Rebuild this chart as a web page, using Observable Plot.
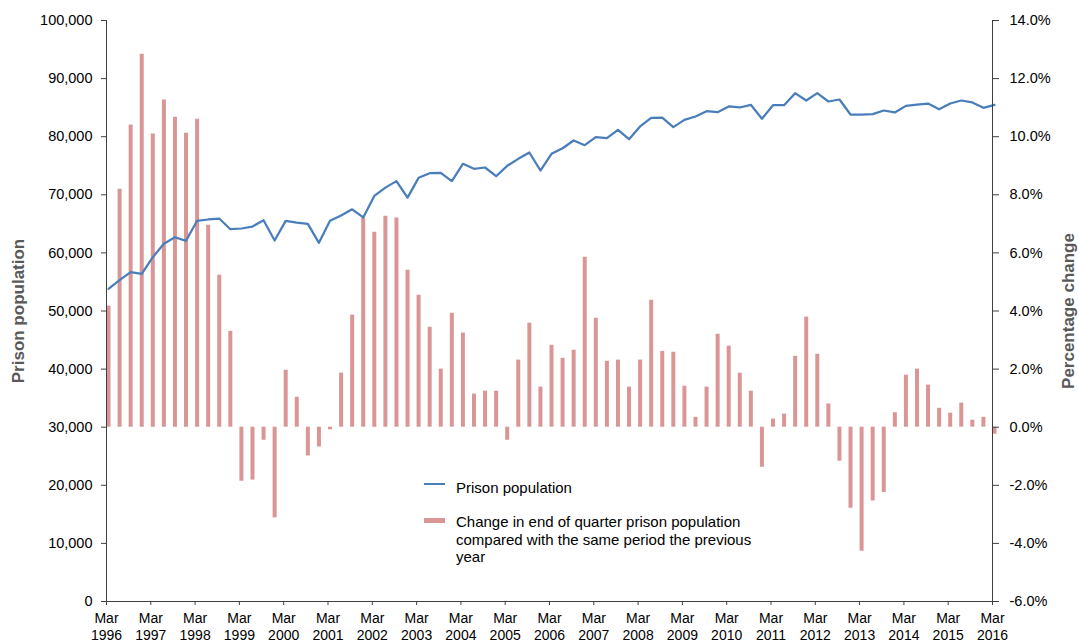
<!DOCTYPE html>
<html>
<head>
<meta charset="utf-8">
<script src="https://cdn.jsdelivr.net/npm/d3@7"></script>
<script src="https://cdn.jsdelivr.net/npm/@observablehq/plot@0.6"></script>
<style>
  html, body { margin: 0; padding: 0; background: #fff; }
  #wrap { position: relative; width: 1078px; height: 643px; font-family: "Liberation Sans", Arial, sans-serif; }
  .legend-swatch { position: absolute; }
  .legend-text { position: absolute; font-size: 15px; color: #000; line-height: 17.5px; white-space: nowrap; }
</style>
</head>
<body>
<div id="wrap"></div>
<script>
// ---- Data (quarterly, Mar 1996 – Mar 2016) ----
const years = [1996,1997,1998,1999,2000,2001,2002,2003,2004,2005,2006,2007,2008,2009,2010,2011,2012,2013,2014,2015,2016];

const population = [
  53800,55300,56680,56400,59260,61560,62700,62080,65520,65750,
  65920,64080,64200,64540,65630,62130,65520,65230,65000,61730,
  65520,66440,67500,66100,69800,71230,72350,69510,72920,73720,
  73780,72350,75330,74470,74700,73200,74990,76190,77280,74180,
  77050,78020,79350,78540,79920,79750,81180,79570,81760,83250,
  83280,81640,82900,83480,84390,84220,85200,85030,85490,83080,
  85420,85420,87490,86230,87490,86060,86400,83820,83820,83880,
  84510,84170,85310,85540,85710,84740,85710,86230,85890,84970,
  85490
];

const pctChange = [
  4.17,8.19,10.40,12.84,10.09,11.26,10.67,10.12,10.60,6.95,
  5.23,3.30,-1.86,-1.82,-0.45,-3.12,1.96,1.03,-0.99,-0.68,
  -0.09,1.86,3.86,7.20,6.71,7.26,7.20,5.40,4.54,3.44,
  2.00,3.92,3.24,1.14,1.24,1.24,-0.45,2.31,3.58,1.38,
  2.82,2.37,2.65,5.85,3.75,2.27,2.31,1.38,2.31,4.37,
  2.61,2.58,1.41,0.34,1.38,3.20,2.79,1.86,1.24,-1.38,
  0.28,0.45,2.44,3.79,2.51,0.80,-1.17,-2.79,-4.27,-2.54,
  -2.25,0.50,1.79,2.00,1.45,0.65,0.48,0.83,0.24,0.34,
  -0.24
];

const popTicks = [0,10000,20000,30000,40000,50000,60000,70000,80000,90000,100000];
const pctTicks = [-6,-4,-2,0,2,4,6,8,10,12,14];

const legendLine = "Prison population";
const legendBar = ["Change in end of quarter prison population", "compared with the same period the previous", "year"];

// ---- Secondary axis mapping (percent -> left scale units) ----
// -6% aligns with 0 and 14% aligns with 100,000
const pctToPop = p => (p + 6) * 5000;
const popToPct = v => v / 5000 - 6;

const rows = population.map((v, i) => ({
  i, pop: v, pct: pctChange[i], base: pctToPop(0), top: pctToPop(pctChange[i])
}));

const xTicks = years.map((y, k) => k * 4);
const fmtPop = d3.format(",");

const lineColor = "#4a7ebb";
const barColor = "#d99694";
const axisColor = "#404040";

const plot = Plot.plot({
  width: 1078,
  height: 643,
  marginLeft: 106,
  marginRight: 86,
  marginTop: 20,
  marginBottom: 42,
  style: { fontFamily: "'Liberation Sans', Arial, sans-serif", color: "#000", background: "#fff" },
  x: { type: "linear", domain: [0, 80] },
  y: { domain: [0, 100000] },
  marks: [
    Plot.ruleX(rows, { x: "i", y1: "base", y2: "top", stroke: barColor, strokeWidth: 4, dx: 2 }),
    Plot.line(rows, { x: "i", y: "pop", stroke: lineColor, strokeWidth: 2.25, dx: 2, strokeLinejoin: "round" }),
    Plot.ruleY([0], { stroke: axisColor }),
    Plot.ruleX([0, 80], { stroke: axisColor }),
    Plot.axisY({
      anchor: "left", ticks: popTicks, tickFormat: d => fmtPop(d),
      tickSize: 5, tickPadding: 9, fontSize: 14.5, label: null, stroke: axisColor
    }),
    Plot.axisY({
      anchor: "right", ticks: pctTicks.map(pctToPop), tickFormat: d => popToPct(d).toFixed(1) + "%",
      tickSize: 6, tickPadding: 11, fontSize: 14.5, label: null, stroke: axisColor
    }),
    Plot.axisX({
      anchor: "bottom", ticks: xTicks, tickFormat: d => "Mar\n" + years[d / 4],
      tickSize: 4, tickPadding: 6, fontSize: 14, label: null, stroke: axisColor, lineHeight: 1.2
    }),
    Plot.text(["Prison population"], {
      frameAnchor: "left", dx: -88, rotate: -90, textAnchor: "middle",
      fontSize: 17, fontWeight: "bold", fill: "#595959"
    }),
    Plot.text(["Percentage change"], {
      frameAnchor: "right", dx: 76, rotate: -90, textAnchor: "middle",
      fontSize: 17, fontWeight: "bold", fill: "#595959"
    })
  ]
});

const wrap = document.getElementById("wrap");
wrap.appendChild(plot);

// ---- Legend (inside plot area) ----
function addDiv(cls, styles, html) {
  const d = document.createElement("div");
  d.className = cls;
  Object.assign(d.style, styles);
  if (html != null) d.innerHTML = html;
  wrap.appendChild(d);
}
addDiv("legend-swatch", { left: "424px", top: "483px", width: "21px", height: "2px", background: lineColor });
addDiv("legend-text", { left: "456px", top: "479px" }, legendLine);
addDiv("legend-swatch", { left: "424px", top: "518px", width: "21px", height: "5px", background: barColor });
addDiv("legend-text", { left: "456px", top: "513px" }, legendBar.join("<br>"));
</script>
</body>
</html>
